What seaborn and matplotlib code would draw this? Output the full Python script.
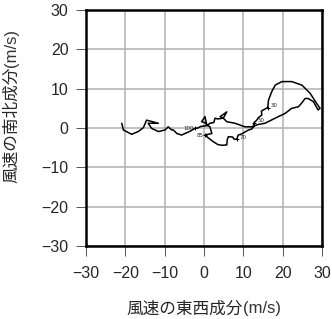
import matplotlib
matplotlib.use("Agg")
import matplotlib.pyplot as plt
import seaborn as sns
import pandas as pd

# Hodograph: wind east-west (u) and north-south (v) components, m/s
u = [0.7, 0.25, -0.6, 0.3, 0.7, 1.5, 2.0, 1.0, 0.25, 1.2, 2.4, 3.5, 4.5, 5.8, 5.9, 6.2,
     7.3, 7.6, 8.3, 8.7, 9.6, 11.3, 12.1, 12.6, 12.7, 13.4, 13.8, 14.7, 14.6, 15.1, 16.2,
     16.4, 17.2, 18.1, 19.8, 22.3, 24.9, 27.0, 28.6, 29.5, 29.0, 27.8, 26.5, 25.7, 24.8,
     24.0, 22.3, 20.6, 18.1, 15.5, 13.8, 12.1, 10.4, 7.9, 5.8, 4.9, 5.8, 4.1, 4.9, 3.5,
     2.8, 2.5, 1.5, 0.8, -0.8, -1.6, -2.3, -3.5, -5.7, -6.9, -7.8, -8.2, -9.1, -9.9,
     -11.6, -13.3, -14.2, -11.6, -14.6, -15.4, -16.7, -18.4, -20.5, -20.9]
v = [0.8, 2.9, 1.6, 1.3, 0.8, 0.3, -1.4, -1.6, -1.8, -2.6, -3.5, -4.2, -4.4, -4.3, -3.0, -2.2,
     -2.3, -2.8, -2.9, -1.8, -1.5, -0.5, -0.3, 0.3, 1.3, 2.0, 2.6, 3.3, 4.3, 4.6, 5.2,
     7.1, 9.2, 10.9, 11.8, 11.8, 10.9, 8.8, 6.3, 5.0, 4.6, 6.7, 7.5, 7.5, 6.3,
     5.4, 5.0, 3.7, 2.5, 1.2, 0.9, 0.3, 0.3, 1.2, 1.6, 2.5, 4.1, 2.9, 2.5, 2.3,
     2.5, 1.4, 1.2, 0.6, 0.4, 0.0, -0.1, -0.8, -1.8, -1.4, -0.5, -0.5, 0.3, -0.5,
     -0.9, -0.1, 1.2, 1.2, 2.0, 0.1, -0.9, -1.6, -0.5, 1.2]

# Pressure-level labels (hPa / 10) along the curve
level_names = ["85", "70", "50", "30", "100"]
level_u = [0.25, 8.3, 12.7, 16.2, -2.3]
level_v = [-1.8, -2.9, 1.3, 5.2, -0.1]

ticks = [-30, -20, -10, 0, 10, 20, 30]
tick_labels = ["\u221230", "\u221220", "\u221210", "0", "10", "20", "30"]

sns.set_style("white")
plt.rcParams["font.family"] = ["Noto Sans CJK JP", "DejaVu Sans"]

fig = plt.figure(figsize=(3.32, 3.19), dpi=100)
ax = fig.add_axes([86 / 332, 1 - 246 / 319, 236 / 332, 236 / 319])

df = pd.DataFrame({"u": u, "v": v})
sns.lineplot(data=df, x="u", y="v", sort=False, estimator=None, color="black",
             linewidth=1.1, ax=ax)

lab = pd.DataFrame({"u": level_u, "v": level_v, "name": level_names})
sns.scatterplot(data=lab, x="u", y="v", marker="+", s=12, color="black",
                linewidth=0.7, ax=ax, zorder=4)
for name, x0, y0 in zip(level_names, level_u, level_v):
    if name in ("100", "85"):
        ax.text(x0 - 0.3, y0, name, fontsize=4, ha="right", va="center",
                family="DejaVu Sans")
    else:
        ax.text(x0 + 0.8, y0 + 0.5, name, fontsize=4, ha="left", va="center",
                family="DejaVu Sans")

ax.set_xlim(-30, 30)
ax.set_ylim(-30, 30)
ax.set_xticks(ticks)
ax.set_yticks(ticks)
ax.set_xticklabels(tick_labels, family="Liberation Sans")
ax.set_yticklabels(tick_labels, family="Liberation Sans")
ax.grid(True, color="#b0b0b0", linewidth=1.1)
ax.set_axisbelow(True)
for s in ax.spines.values():
    s.set_color("black")
    s.set_linewidth(1.8)
ax.tick_params(axis="both", which="major", direction="out", length=7.5, width=0.7,
               color="#555555", labelsize=11.5, pad=5, bottom=True, left=True)
ax.tick_params(axis="x", pad=7)

ax.set_xlabel("")
ax.set_ylabel("")
fig.text(243 / 332, 1 - 309 / 319, "風速の東西成分", fontsize=12, ha="right",
         va="center")
fig.text(243 / 332, 1 - 309 / 319, "(m/s)", fontsize=12, ha="left", va="center",
         family="Liberation Sans", color="#333333")
fig.text(12 / 332, 1 - 67 / 319, "風速の南北成分", fontsize=12, ha="center",
         va="top", rotation=90)
fig.text(12 / 332, 1 - 67 / 319, "(m/s)", fontsize=12, ha="center", va="bottom",
         rotation=90, family="Liberation Sans", color="#333333")

fig.savefig("out.png", dpi=100)
